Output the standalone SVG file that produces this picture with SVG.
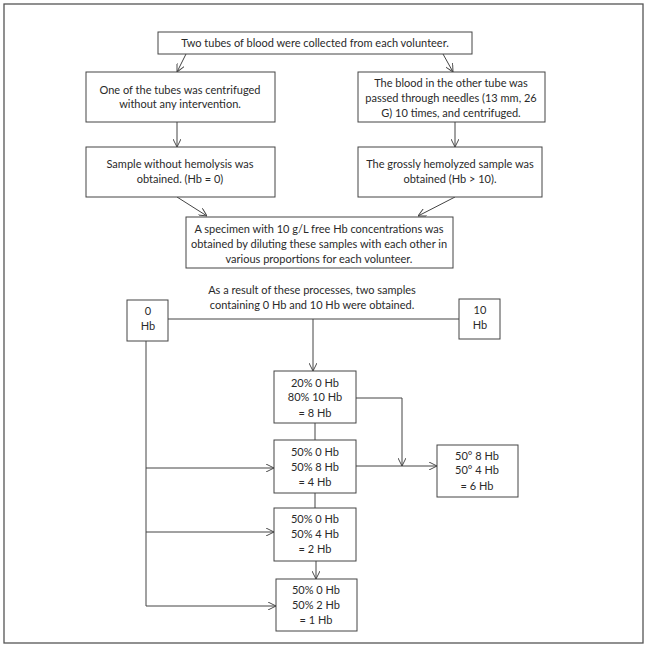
<svg xmlns="http://www.w3.org/2000/svg" width="648" height="647" viewBox="0 0 648 647">
<defs>
<style>
.box{fill:#fff;stroke:#444;stroke-width:1}
.ln{fill:none;stroke:#444;stroke-width:1}
.ar{fill:none;stroke:#444;stroke-width:1;marker-end:url(#ah)}
text{font-family:Lato,"Open Sans","DejaVu Sans",sans-serif;font-size:11px;fill:#2a2a2a;text-anchor:middle}
</style>
<marker id="ah" viewBox="0 0 10 10" refX="10" refY="5" markerWidth="8" markerHeight="8" markerUnits="userSpaceOnUse" orient="auto">
<path d="M0,0 L10,5 L0,10" fill="none" stroke="#444" stroke-width="1.2"/>
</marker>
</defs>
<rect x="0" y="0" width="648" height="647" fill="#fff"/>
<rect x="4" y="4" width="639" height="639" fill="none" stroke="#555" stroke-width="1.3"/>

<g id="connectors">
<line class="ar" x1="186" y1="54" x2="177" y2="72"/>
<line class="ar" x1="443" y1="54" x2="453" y2="72"/>
<line class="ar" x1="177" y1="122" x2="177" y2="147"/>
<line class="ar" x1="455" y1="122" x2="455" y2="147"/>
<line class="ar" x1="177" y1="197" x2="207" y2="216"/>
<line class="ar" x1="455" y1="197" x2="418" y2="216"/>
<line class="ln" x1="168" y1="319" x2="459" y2="319"/>
<line class="ar" x1="313" y1="319" x2="313" y2="371"/>
<line class="ln" x1="146" y1="341" x2="146" y2="606"/>
<polyline class="ar" points="356,398 402,398 402,466"/>
<line class="ln" x1="315" y1="423" x2="315" y2="440"/>
<line class="ar" x1="146" y1="468" x2="274" y2="468"/>
<line class="ar" x1="356" y1="466" x2="437" y2="466"/>
<line class="ln" x1="315" y1="493" x2="315" y2="508"/>
<line class="ar" x1="146" y1="532" x2="274" y2="532"/>
<line class="ar" x1="316" y1="561" x2="316" y2="579"/>
<line class="ar" x1="146" y1="606" x2="276" y2="606"/>
</g>

<g id="n-top">
<rect class="box" x="158" y="32" width="314" height="22"/>
<text x="315" y="47">Two tubes of blood were collected from each volunteer.</text>
</g>
<g id="n-left1">
<rect class="box" x="86" y="72" width="189" height="50"/>
<text x="180" y="94">One of the tubes was centrifuged</text>
<text x="180" y="108">without any intervention.</text>
</g>
<g id="n-right1">
<rect class="box" x="358" y="72" width="187" height="50"/>
<text x="451" y="87">The blood in the other tube was</text>
<text x="451" y="102">passed through needles (13 mm, 26</text>
<text x="451" y="117">G) 10 times, and centrifuged.</text>
</g>
<g id="n-left2">
<rect class="box" x="86" y="147" width="189" height="50"/>
<text x="180" y="168">Sample without hemolysis was</text>
<text x="180" y="183">obtained. (Hb = 0)</text>
</g>
<g id="n-right2">
<rect class="box" x="358" y="147" width="184" height="50"/>
<text x="450" y="168">The grossly hemolyzed sample was</text>
<text x="450" y="183">obtained (Hb &gt; 10).</text>
</g>
<g id="n-specimen">
<rect class="box" x="186" y="217" width="267" height="51"/>
<text x="319" y="233">A specimen with 10 g/L free Hb concentrations was</text>
<text x="319" y="248">obtained by diluting these samples with each other in</text>
<text x="319" y="263">various proportions for each volunteer.</text>
</g>
<g id="n-result">
<text x="312" y="294">As a result of these processes, two samples</text>
<text x="312" y="309">containing 0 Hb and 10 Hb were obtained.</text>
</g>
<g id="n-0hb">
<rect class="box" x="127" y="300" width="41" height="41"/>
<text x="148" y="315">0</text>
<text x="148" y="330">Hb</text>
</g>
<g id="n-10hb">
<rect class="box" x="459" y="299" width="41" height="40"/>
<text x="480" y="314">10</text>
<text x="480" y="329">Hb</text>
</g>
<g id="n-8hb">
<rect class="box" x="274" y="371" width="82" height="52"/>
<text x="315" y="387">20% 0 Hb</text>
<text x="315" y="401">80% 10 Hb</text>
<text x="315" y="417">= 8 Hb</text>
</g>
<g id="n-4hb">
<rect class="box" x="274" y="440" width="82" height="53"/>
<text x="315" y="456">50% 0 Hb</text>
<text x="315" y="471">50% 8 Hb</text>
<text x="315" y="486">= 4 Hb</text>
</g>
<g id="n-6hb">
<rect class="box" x="437" y="445" width="81" height="52"/>
<text x="477" y="460">50° 8 Hb</text>
<text x="477" y="474">50° 4 Hb</text>
<text x="477" y="490">= 6 Hb</text>
</g>
<g id="n-2hb">
<rect class="box" x="274" y="508" width="82" height="53"/>
<text x="315" y="523">50% 0 Hb</text>
<text x="315" y="538">50% 4 Hb</text>
<text x="315" y="553">= 2 Hb</text>
</g>
<g id="n-1hb">
<rect class="box" x="276" y="579" width="81" height="52"/>
<text x="316" y="594">50% 0 Hb</text>
<text x="316" y="609">50% 2 Hb</text>
<text x="316" y="624">= 1 Hb</text>
</g>
</svg>
